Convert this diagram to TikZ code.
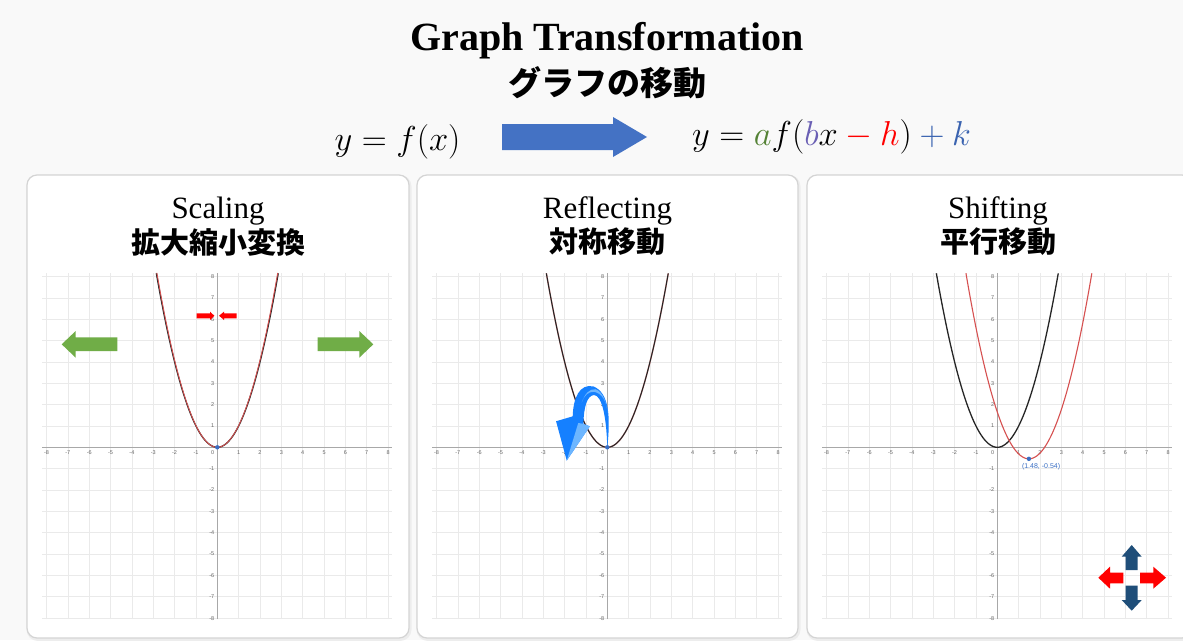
\documentclass[tikz,border=0pt]{standalone}
\usepackage{fontspec}
\setmainfont{Liberation Serif}
\newfontfamily\cjk{Noto Sans CJK JP}
\newfontfamily\ticksf{Liberation Sans}
\definecolor{bgc}{HTML}{F9F9F9}
\definecolor{panelb}{HTML}{D4D4D4}
\definecolor{gridc}{HTML}{EAEAEA}
\definecolor{axisc}{HTML}{A8A8A8}
\definecolor{tickc}{HTML}{666666}
\definecolor{curvered}{HTML}{D65050}
\definecolor{dotc}{HTML}{3A6FC4}
\definecolor{greenarr}{HTML}{70AD47}
\definecolor{navyarr}{HTML}{1F4E79}
\definecolor{bigarr}{HTML}{4472C4}
\definecolor{ca}{HTML}{548235}
\definecolor{cb}{HTML}{6A5FB4}
\definecolor{ck}{HTML}{3A63B0}
\definecolor{ribbon}{HTML}{1580FF}
\definecolor{ribbonl}{HTML}{6DB6FF}
\newcommand\mygrid[1]{%
  \foreach \i in {-8,...,8} \draw[gridline] (\i,-8.05) -- (\i,8.15);
  \foreach \j in {-8,...,8} \draw[gridline] (-8.2,\j) -- (8.2,\j);
  \draw[axisline] (-8.2,0) -- (8.2,0);
  \draw[axisline] (0,-8.05) -- (0,8.15);
  \foreach \i in {-8,...,-1,1,2,...,8} {
    \node[ticklabel,anchor=north] (#1x\i) at (\i,-0.12) {\i};
    \node[ticklabel,anchor=east] (#1y\i) at (-0.1,\i) {\i};
  }
  \node[ticklabel,anchor=north east] (#1o) at (-0.1,-0.12) {0};
}
\begin{document}
\begin{tikzpicture}[x=1pt,y=-1pt,
  gridline/.style={draw=gridc,line width=0.6pt},
  axisline/.style={draw=axisc,line width=0.9pt},
  ticklabel/.style={text=tickc,font=\ticksf\fontsize{5.5}{6}\selectfont,inner sep=0.8pt},
  panel/.style={draw=panelb,line width=1.2pt,fill=white,rounded corners=10pt},
  pshadow/.style={draw=black!7,line width=3pt,rounded corners=10pt},
  blackcurve/.style={draw=black!85,line width=1.3pt},
  redcurve/.style={draw=curvered,line width=1.1pt},
  dot/.style={fill=dotc},
  ptitle/.style={anchor=base,font=\fontsize{31}{34}\selectfont},
  jtitle/.style={inner sep=0pt,font=\fontsize{29}{32}\selectfont\cjk\bfseries},
  mathtxt/.style={font=\Huge,scale=1.39}]
\useasboundingbox (0,0) rectangle (1183,640);
\fill[bgc] (0,0) rectangle (1183,640);

% titles
\node[anchor=base] (title) at (607,50) {\fontsize{40}{44}\selectfont\bfseries Graph Transformation};
\node[inner sep=0pt] (jmain) at (607,82.5) {\fontsize{33}{36}\selectfont\cjk\bfseries グラフの移動};

% formulas
\node[mathtxt] (lhs) at (397.5,142) {$y = f(x)$};
\node[mathtxt] (rhs) at (831.5,137) {$y = {\color{ca}a}f({\color{cb}b}x \mathbin{\color{red}-} {\color{red}h}) \mathbin{\color{ck}+} {\color{ck}k}$};
\fill[bigarr] (502,124) -- (613,124) -- (613,117) -- (647,137) -- (613,157) -- (613,150) -- (502,150) -- cycle;

% panels
\draw[pshadow] (28,176.5) rectangle (410,639.5);
\draw[pshadow] (418,176.5) rectangle (799,639.5);
\draw[pshadow] (808,176.5) rectangle (1192,639.5);
\draw[panel] (27,175) rectangle (409,638);
\draw[panel] (417,175) rectangle (798,638);
\draw[panel] (807,175) rectangle (1192,638);

\node[ptitle] (t1) at (218,218) {Scaling};
\node[jtitle] (j1) at (218,242) {拡大縮小変換};
\node[ptitle] (t2) at (607.5,218) {Reflecting};
\node[jtitle] (j2) at (607.5,242) {対称移動};
\node[ptitle] (t3) at (998,218) {Shifting};
\node[jtitle] (j3) at (998,242) {平行移動};

% ---------- panel 1 ----------
\begin{scope}[shift={(217.3,447.3)}]
\begin{scope}[x=21.35pt,y=21.35pt]
  \mygrid{a}
  \draw[blackcurve,domain=-2.855:2.855,samples=90,smooth] plot (\x,{\x*\x});
  \draw[redcurve,line width=0.9pt,domain=-2.83:2.83,samples=90,smooth] plot (\x,{1.02*\x*\x});
  \fill[dot] (0,0) circle (2.2pt);
\end{scope}
\end{scope}
% green arrows
\fill[greenarr] (61.7,344.3) -- (75.7,331) -- (75.7,337.3) -- (117.3,337.3) -- (117.3,351) -- (75.7,351) -- (75.7,357.7) -- cycle;
\fill[greenarr] (373.3,344.3) -- (359.3,331) -- (359.3,337.3) -- (317.7,337.3) -- (317.7,351) -- (359.3,351) -- (359.3,357.7) -- cycle;
% red small arrows
\fill[red] (214.3,315.7) -- (210,311.7) -- (210,313.3) -- (196.7,313.3) -- (196.7,318.3) -- (210,318.3) -- (210,320) -- cycle;
\fill[red] (219,315.7) -- (224,311.7) -- (224,313.3) -- (236.7,313.3) -- (236.7,318.3) -- (224,318.3) -- (224,320) -- cycle;

% ---------- panel 2 ----------
\begin{scope}[shift={(607.3,447.3)}]
\begin{scope}[x=21.35pt,y=21.35pt]
  \mygrid{b}
  \draw[redcurve,line width=1.4pt,draw=curvered!60,domain=-2.855:2.855,samples=90,smooth] plot (\x,{\x*\x});
  \draw[blackcurve,line width=1.1pt,domain=-2.855:2.855,samples=90,smooth] plot (\x,{\x*\x});
  \fill[dot] (0,0) circle (2.2pt);
  % curved ribbon arrow
  \fill[ribbon] (0,0) .. controls (0.15,1.4) and (0.1,2.55) .. (-0.65,2.85)
    .. controls (-1.3,3.0) and (-1.6,2.3) .. (-1.62,1.45)
    -- (-2.4,1.22) -- (-1.9,-0.62) -- (-0.82,0.98) -- (-1.12,1.1)
    .. controls (-1.1,1.9) and (-0.95,2.42) .. (-0.62,2.45)
    .. controls (-0.28,2.42) and (-0.05,1.6) .. (0,0) -- cycle;
  \fill[ribbonl] (-1.9,-0.62) -- (-0.82,0.98) -- (-1.12,1.1) -- (-1.36,1.14) -- cycle;
  \fill[ribbonl] (-0.55,2.72) .. controls (-0.2,2.6) and (-0.05,2.1) .. (0.02,1.6)
    .. controls (-0.05,2.2) and (-0.25,2.52) .. (-0.62,2.6)
    .. controls (-0.9,2.62) and (-1.1,2.4) .. (-1.2,2.1)
    .. controls (-1.05,2.5) and (-0.85,2.75) .. (-0.55,2.72) -- cycle;
\end{scope}
\end{scope}

% ---------- panel 3 ----------
\begin{scope}[shift={(997.3,447.3)}]
\begin{scope}[x=21.35pt,y=21.35pt]
  \mygrid{c}
  \draw[blackcurve,domain=-2.855:2.855,samples=90,smooth] plot (\x,{\x*\x});
  \draw[redcurve,domain=-1.468:4.428,samples=100,smooth] plot (\x,{(\x-1.48)*(\x-1.48)-0.54});
  \fill[dot] (1.48,-0.54) circle (2.2pt);
  \node[text=dotc,font=\ticksf\fontsize{7}{8}\selectfont] (vlabel) at (2.05,-0.93) {(1.48, -0.54)};
\end{scope}
\end{scope}
% four-way arrows
\fill[navyarr] (1131.7,545) -- (1141.7,556.7) -- (1137.7,556.7) -- (1137.7,570) -- (1125.7,570) -- (1125.7,556.7) -- (1121.7,556.7) -- cycle;
\fill[navyarr] (1131.7,610.7) -- (1141.7,600) -- (1137.7,600) -- (1137.7,585.7) -- (1125.7,585.7) -- (1125.7,600) -- (1121.7,600) -- cycle;
\fill[red] (1098.3,577.7) -- (1110,566.7) -- (1110,572.7) -- (1123.3,572.7) -- (1123.3,583.3) -- (1110,583.3) -- (1110,588.7) -- cycle;
\fill[red] (1166,577.7) -- (1153.3,566.7) -- (1153.3,572.7) -- (1140,572.7) -- (1140,583.3) -- (1153.3,583.3) -- (1153.3,588.7) -- cycle;
\end{tikzpicture}
\end{document}
